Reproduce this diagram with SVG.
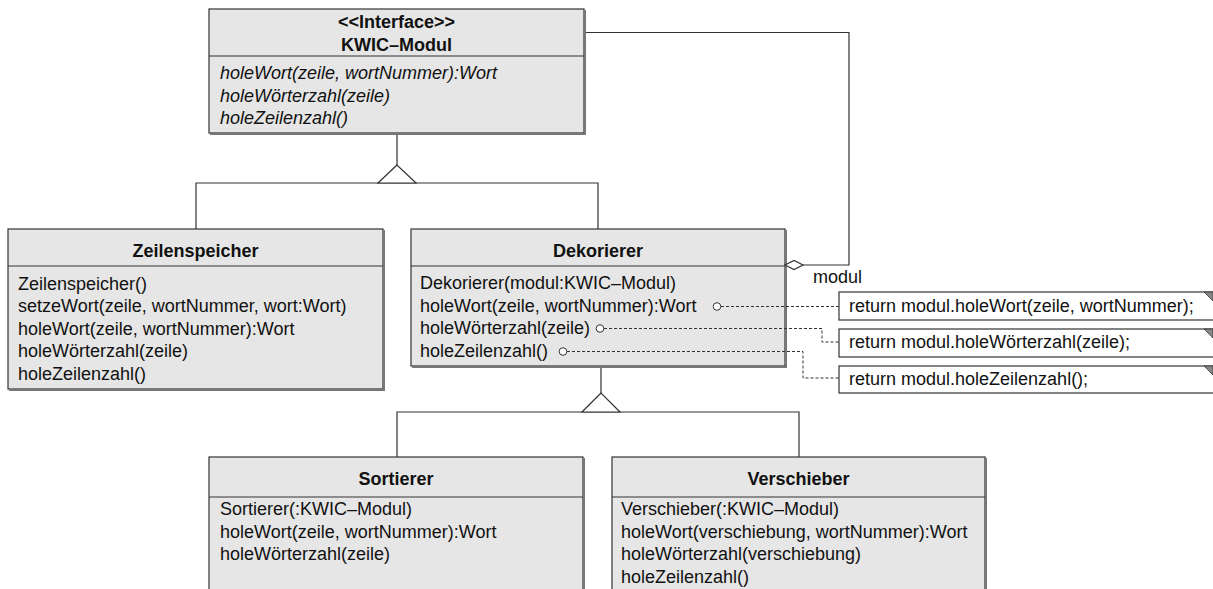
<svg xmlns="http://www.w3.org/2000/svg" width="1213" height="589" viewBox="0 0 1213 589">
<style>
text{font-family:"Liberation Sans",Arial,sans-serif;font-size:18px;fill:#111}
.b{font-weight:bold;text-anchor:middle}
.i{font-style:italic}
.box{fill:#e6e6e6;stroke:#333;stroke-width:1.2}
.sh{fill:none;stroke:#777;stroke-width:2}
.sep{stroke:#333;stroke-width:1.2}
.ln{fill:none;stroke:#333;stroke-width:1.2}
.tri{fill:#fff;stroke:#333;stroke-width:1.2}
.dash{fill:none;stroke:#333;stroke-width:1;stroke-dasharray:3,2}
.note{fill:#fff;stroke:#333;stroke-width:1.2}
.ear{fill:#888;stroke:#333;stroke-width:0.8}
.dot{fill:#fff;stroke:#333;stroke-width:1}
</style>
<g id="kwic">
<rect class="box" x="209" y="9" width="375" height="124"/>
<path class="sh" d="M585 10V134H210"/>
<line class="sep" x1="209" y1="56" x2="584" y2="56"/>
<text class="b" x="396.5" y="28">&lt;&lt;Interface&gt;&gt;</text>
<text class="b" x="396.5" y="51">KWIC–Modul</text>
<text class="i" x="220" y="79">holeWort(zeile, wortNummer):Wort</text>
<text class="i" x="220" y="101.5">holeWörterzahl(zeile)</text>
<text class="i" x="220" y="124">holeZeilenzahl()</text>
</g>
<g id="zeilenspeicher">
<rect class="box" x="8" y="229" width="375" height="160"/>
<path class="sh" d="M384 230V390H9"/>
<line class="sep" x1="8" y1="266" x2="383" y2="266"/>
<text class="b" x="195.5" y="257">Zeilenspeicher</text>
<text x="18" y="289.5">Zeilenspeicher()</text>
<text x="18" y="312">setzeWort(zeile, wortNummer, wort:Wort)</text>
<text x="18" y="334.5">holeWort(zeile, wortNummer):Wort</text>
<text x="18" y="357">holeWörterzahl(zeile)</text>
<text x="18" y="379.5">holeZeilenzahl()</text>
</g>
<g id="dekorierer">
<rect class="box" x="411" y="229" width="374" height="137"/>
<path class="sh" d="M786 230V367H412"/>
<line class="sep" x1="411" y1="266" x2="785" y2="266"/>
<text class="b" x="598" y="257">Dekorierer</text>
<text x="420" y="289">Dekorierer(modul:KWIC–Modul)</text>
<text x="420" y="311.5">holeWort(zeile, wortNummer):Wort</text>
<text x="420" y="334">holeWörterzahl(zeile)</text>
<text x="420" y="356.5">holeZeilenzahl()</text>
</g>
<g id="note1">
<rect class="note" x="839" y="292" width="380" height="28"/>
<path class="ear" d="M1204 292H1213V301Z"/>
<text x="849" y="312">return modul.holeWort(zeile, wortNummer);</text>
</g>
<g id="note2">
<rect class="note" x="839" y="329" width="380" height="28"/>
<path class="ear" d="M1204 329H1213V338Z"/>
<text x="849" y="348">return modul.holeWörterzahl(zeile);</text>
</g>
<g id="note3">
<rect class="note" x="839" y="366" width="380" height="27"/>
<path class="ear" d="M1204 366H1213V375Z"/>
<text x="849" y="384.5">return modul.holeZeilenzahl();</text>
</g>
<g id="sortierer">
<rect class="box" x="209" y="457" width="374" height="140"/>
<path class="sh" d="M584 458V597"/>
<line class="sep" x1="209" y1="497" x2="583" y2="497"/>
<text class="b" x="396" y="485">Sortierer</text>
<text x="220" y="515">Sortierer(:KWIC–Modul)</text>
<text x="220" y="537.5">holeWort(zeile, wortNummer):Wort</text>
<text x="220" y="560">holeWörterzahl(zeile)</text>
</g>
<g id="verschieber">
<rect class="box" x="612" y="457" width="373" height="140"/>
<path class="sh" d="M986 458V597"/>
<line class="sep" x1="612" y1="497" x2="985" y2="497"/>
<text class="b" x="798.5" y="485">Verschieber</text>
<text x="621" y="515">Verschieber(:KWIC–Modul)</text>
<text x="621" y="537.5">holeWort(verschiebung, wortNummer):Wort</text>
<text x="621" y="560">holeWörterzahl(verschiebung)</text>
<text x="621" y="582.5">holeZeilenzahl()</text>
</g>
<g id="connectors">
<path class="ln" d="M397 135V165M196 229V183H598V229"/>
<path class="tri" d="M397 165L378 183H416Z"/>
<path class="ln" d="M601 368V393M397 457V412H799V457"/>
<path class="tri" d="M601 393L582 412H620Z"/>
<path class="ln" d="M586 32.5H849V265H803"/>
<path class="tri" d="M785 265L794 260.5L803 265L794 269.5Z"/>
<text x="813" y="283">modul</text>
<path class="dash" d="M721 306.5H839"/>
<path class="dash" d="M604 328.5H822V342H839"/>
<path class="dash" d="M567 351.5H803V378H839"/>
<circle class="dot" cx="717" cy="306.5" r="3.8"/>
<circle class="dot" cx="600" cy="328.5" r="3.8"/>
<circle class="dot" cx="563" cy="351.5" r="3.8"/>
</g>
</svg>
